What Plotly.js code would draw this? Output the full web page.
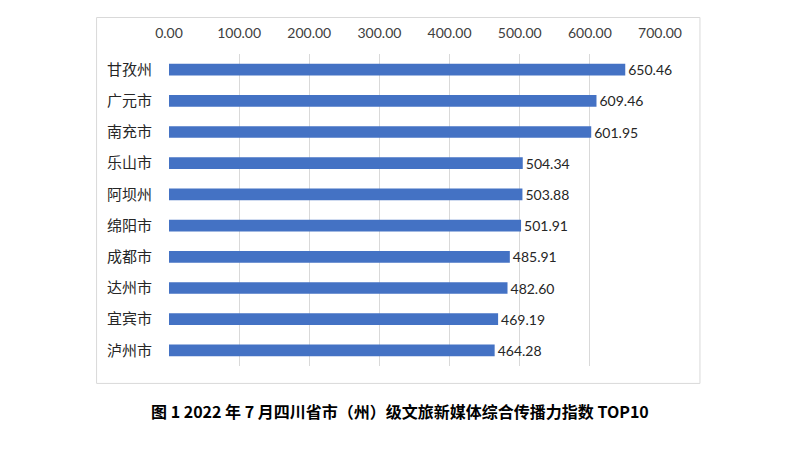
<!DOCTYPE html>
<html>
<head>
<meta charset="utf-8">
<script src="https://cdn.plot.ly/plotly-3.0.1.min.js"></script>
<style>html,body{margin:0;padding:0;background:#fff;}#chart{width:800px;height:466px;}</style>
</head>
<body>
<div id="chart"></div>
<script>
const categories = ["甘孜州","广元市","南充市","乐山市","阿坝州","绵阳市","成都市","达州市","宜宾市","泸州市"];
const values = [650.46, 609.46, 601.95, 504.34, 503.88, 501.91, 485.91, 482.60, 469.19, 464.28];
const tickValues = [0, 100, 200, 300, 400, 500, 600, 700];
const tickLabels = ["0.00","100.00","200.00","300.00","400.00","500.00","600.00","700.00"];
const chartTitle = "图 1 2022 年 7 月四川省市（州）级文旅新媒体综合传播力指数 TOP10";

const trace = {
  type: "bar",
  orientation: "h",
  y: categories,
  x: values,
  marker: {color: "#4472C4"},
  text: values.map(v => v.toFixed(2)),
  textposition: "outside",
  constraintext: "none",
  cliponaxis: false,
  textfont: {family: "Lato, 'Noto Sans', sans-serif", size: 14, color: "#262626"},
  hoverinfo: "none"
};

const layout = {
  width: 800, height: 466,
  margin: {l: 168.5, r: 140, t: 53.5, b: 100.4},
  paper_bgcolor: "#fff", plot_bgcolor: "#fff",
  showlegend: false,
  bargap: 0.625,
  xaxis: {
    side: "top",
    range: [0, 700],
    tickvals: tickValues,
    ticktext: tickLabels,
    showgrid: true, gridcolor: "#d9d9d9", gridwidth: 1,
    zeroline: false, showline: false, ticks: "",
    tickfont: {family: "Lato, 'Noto Sans', sans-serif", size: 14, color: "#404040"},
    ticklabelstandoff: 12,
    fixedrange: true
  },
  yaxis: {
    autorange: "reversed",
    type: "category",
    showgrid: false, zeroline: false, showline: false, ticks: "",
    tickfont: {family: "'Noto Sans CJK SC', sans-serif", size: 15, color: "#262626"},
    ticklabelstandoff: 16,
    fixedrange: true
  },
  shapes: [
    {type: "rect", xref: "paper", yref: "paper", x0: -0.1475, x1: 1.0814, y0: -0.0558, y1: 1.117,
     line: {color: "#d9d9d9", width: 1}, fillcolor: "rgba(0,0,0,0)", layer: "below"}
  ],
  annotations: [
    {text: "<b>" + chartTitle + "</b>", xref: "paper", yref: "paper", x: (400-168.5)/491.5, y: (365.6-411)/312.1,
     xanchor: "center", yanchor: "middle", showarrow: false,
     font: {family: "'Noto Sans CJK SC', sans-serif", size: 16, color: "#000"}}
  ]
};

Plotly.newPlot("chart", [trace], layout, {displayModeBar: false, staticPlot: true});
</script>
</body>
</html>
